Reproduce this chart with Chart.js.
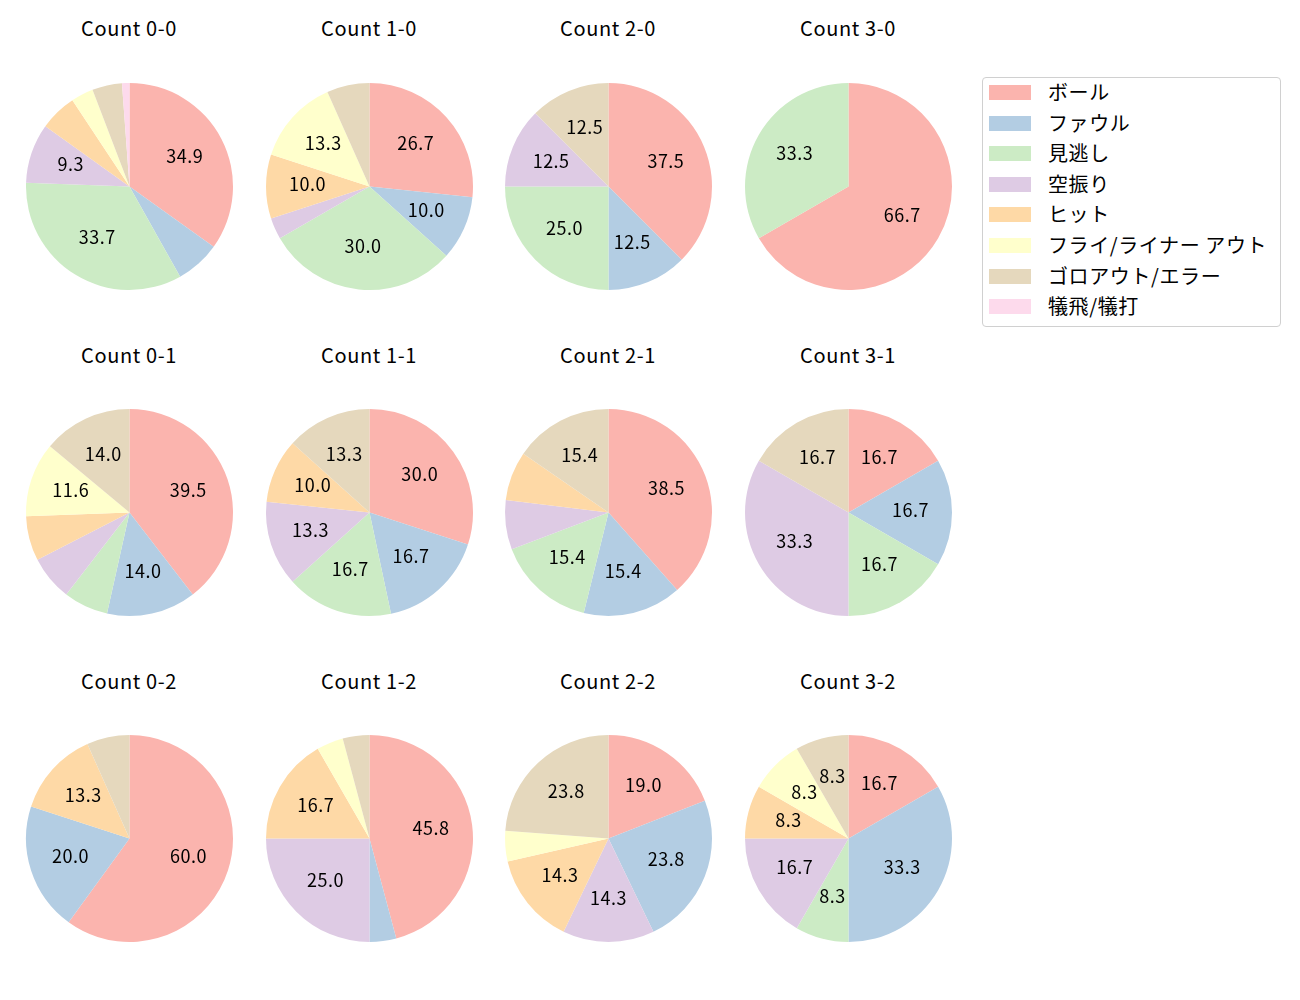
<!DOCTYPE html>
<html lang="ja">
<head>
  <meta charset="UTF-8">
  <title>Count pies</title>
  <script src="https://cdn.jsdelivr.net/npm/chart.js"></script>
  <style>
    body {
      margin: 0;
      background: #fff;
      font-family: 'Noto Sans CJK JP', 'Noto Sans', sans-serif;
      color: #000;
    }
    #page {
      position: relative;
      width: 1300px;
      height: 1000px;
    }
    .pie {
      position: absolute;
    }
    .title {
      position: absolute;
      width: 200px;
      text-align: center;
      font-size: 20px;
      letter-spacing: 0.6px;
      line-height: 24px;
    }
    #legend {
      position: absolute;
      left: 982px;
      top: 77px;
      width: 299px;
      height: 250px;
      border: 1px solid #d0d0d0;
      border-radius: 4px;
      box-sizing: border-box;
    }
    .item {
      position: absolute;
      left: 6px;
      height: 24px;
      display: flex;
      align-items: center;
      font-size: 20px;
      letter-spacing: 0.6px;
      white-space: nowrap;
    }
    .swatch {
      width: 42px;
      height: 15px;
      margin-right: 17px;
      position: relative;
      top: 1px;
    }
  </style>
</head>
<body>
<div id="page"></div>
<script>
  const categories = ['ボール', 'ファウル', '見逃し', '空振り', 'ヒット', 'フライ/ライナー アウト', 'ゴロアウト/エラー', '犠飛/犠打'];
  const colors = ['#fbb4ae', '#b3cde3', '#ccebc5', '#decbe4', '#fed9a6', '#ffffcc', '#e5d8bd', '#fddaec'];

  const titles = ['Count 0-0', 'Count 1-0', 'Count 2-0', 'Count 3-0',
                  'Count 0-1', 'Count 1-1', 'Count 2-1', 'Count 3-1',
                  'Count 0-2', 'Count 1-2', 'Count 2-2', 'Count 3-2'];

  // pitch outcome counts, same order as categories
  const count00 = [30, 6, 29, 8, 5, 3, 4, 1];
  const count10 = [8, 3, 9, 1, 3, 4, 2, 0];
  const count20 = [3, 1, 2, 1, 0, 0, 1, 0];
  const count30 = [2, 0, 1, 0, 0, 0, 0, 0];
  const count01 = [17, 6, 3, 3, 3, 5, 6, 0];
  const count11 = [9, 5, 5, 4, 3, 0, 4, 0];
  const count21 = [5, 2, 2, 1, 1, 0, 2, 0];
  const count31 = [1, 1, 1, 2, 0, 0, 1, 0];
  const count02 = [9, 3, 0, 0, 2, 0, 1, 0];
  const count12 = [11, 1, 0, 6, 4, 1, 1, 0];
  const count22 = [4, 5, 0, 3, 3, 1, 5, 0];
  const count32 = [2, 4, 1, 2, 1, 1, 1, 0];

  const allCounts = [count00, count10, count20, count30,
                     count01, count11, count21, count31,
                     count02, count12, count22, count32];

  const colX = [129, 369, 608, 848];
  const rowY = [186, 512, 838];
  const titleY = [29, 356, 682];
  const R = 103.5;
  const pad = 4;

  // percentage labels at 0.6 of the radius, like autopct
  const pctLabels = {
    id: 'pctLabels',
    afterDatasetsDraw(chart) {
      const c = chart.ctx;
      const vals = chart.data.datasets[0].data;
      const total = vals.reduce((a, b) => a + b, 0);
      chart.getDatasetMeta(0).data.forEach((arc, i) => {
        const pct = vals[i] / total * 100;
        if (pct < 8) return;
        const mid = (arc.startAngle + arc.endAngle) / 2;
        const r = arc.outerRadius * 0.6;
        c.save();
        c.fillStyle = '#000';
        c.font = '18px "Noto Sans CJK JP"';
        c.letterSpacing = '0.5px';
        c.textAlign = 'center';
        c.textBaseline = 'middle';
        // the CJK font sits low with 'middle', nudge up a little
        c.fillText(pct.toFixed(1), arc.x + Math.cos(mid) * r, arc.y + Math.sin(mid) * r - 2);
        c.restore();
      });
    }
  };

  const page = document.getElementById('page');

  allCounts.forEach((vals, k) => {
    const col = k % 4, row = Math.floor(k / 4);
    const size = 2 * (R + pad);

    const t = document.createElement('div');
    t.className = 'title';
    t.textContent = titles[k];
    t.style.left = (colX[col] - 100) + 'px';
    t.style.top = (titleY[row] - 13) + 'px';
    page.appendChild(t);

    const cv = document.createElement('canvas');
    cv.className = 'pie';
    cv.width = size;
    cv.height = size;
    cv.style.left = (colX[col] - size / 2) + 'px';
    cv.style.top = (rowY[row] - size / 2) + 'px';
    page.appendChild(cv);

    new Chart(cv, {
      type: 'pie',
      data: {
        labels: categories,
        datasets: [{ data: vals, backgroundColor: colors, borderWidth: 0 }]
      },
      options: {
        responsive: false,
        animation: false,
        layout: { padding: pad },
        plugins: { legend: { display: false }, tooltip: { enabled: false } }
      },
      plugins: [pctLabels]
    });
  });

  const legend = document.createElement('div');
  legend.id = 'legend';
  categories.forEach((name, i) => {
    const it = document.createElement('div');
    it.className = 'item';
    it.style.top = (1.5 + i * 30.6) + 'px';
    const sw = document.createElement('span');
    sw.className = 'swatch';
    sw.style.background = colors[i];
    const tx = document.createElement('span');
    tx.textContent = name;
    it.appendChild(sw);
    it.appendChild(tx);
    legend.appendChild(it);
  });
  page.appendChild(legend);
</script>
</body>
</html>
